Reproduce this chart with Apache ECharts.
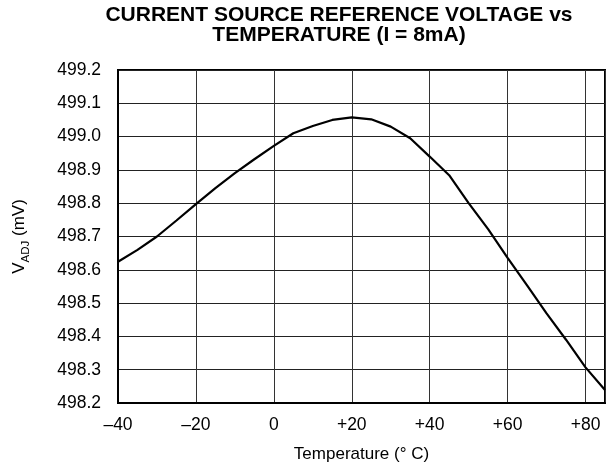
<!DOCTYPE html>
<html>
<head>
<meta charset="utf-8">
<script src="https://cdn.jsdelivr.net/npm/echarts@6/dist/echarts.min.js"></script>
<style>
  html, body { margin: 0; padding: 0; background: #ffffff; }
  #chart { width: 608px; height: 470px; }
</style>
</head>
<body>
<div id="chart"></div>
<script>
// Reference voltage of the current source versus junction temperature
var temperatures = [-40, -35, -30, -25, -20, -15, -10, -5, 0, 5, 10, 15, 20, 25, 30, 35, 40, 45, 50, 55, 60, 65, 70, 75, 80, 85];
var vadj = [498.624, 498.660, 498.700, 498.748, 498.797, 498.845, 498.890, 498.932, 498.972, 499.010, 499.032, 499.050, 499.058, 499.052, 499.030, 498.995, 498.940, 498.884, 498.800, 498.722, 498.636, 498.553, 498.469, 498.390, 498.307, 498.239];
var xTicks = [-40, -20, 0, 20, 40, 60, 80];
var yTicks = [498.2, 498.3, 498.4, 498.5, 498.6, 498.7, 498.8, 498.9, 499.0, 499.1, 499.2];

var titleLines = ['CURRENT SOURCE REFERENCE VOLTAGE vs', 'TEMPERATURE (I = 8mA)'];
var FONT = '"Liberation Sans", Arial, Helvetica, sans-serif';

function fmtTemp(v) {
  if (xTicks.indexOf(v) < 0) return '';
  if (v > 0) return '+' + v;
  if (v < 0) return '\u2013' + Math.abs(v);
  return '0';
}

var points = temperatures.map(function (t, i) { return [t, vadj[i]]; });

var chart = echarts.init(document.getElementById('chart'), null, { renderer: 'canvas' });
chart.setOption({
  animation: false,
  backgroundColor: '#ffffff',
  graphic: [{
    type: 'text',
    x: 339,
    y: 5,
    style: {
      text: titleLines.join('\n'),
      font: 'bold 21px ' + FONT,
      fill: '#000000',
      textAlign: 'center',
      textVerticalAlign: 'top',
      lineHeight: 20
    }
  }],
  grid: {
    left: 118, top: 70, width: 490, height: 333,
    show: true, borderColor: '#000000', borderWidth: 2, backgroundColor: 'transparent'
  },
  xAxis: {
    type: 'value',
    min: -40, max: 85, interval: 20,
    name: 'Temperature (\u00b0 C)',
    nameLocation: 'middle',
    nameGap: 43,
    nameTextStyle: { fontFamily: FONT, fontSize: 17, color: '#000000' },
    axisLine: { show: true, onZero: false, lineStyle: { color: '#000000', width: 2 } },
    axisTick: { show: false },
    axisLabel: { formatter: fmtTemp, margin: 13, fontFamily: FONT, fontSize: 17.5, color: '#000000' },
    splitLine: { show: true, lineStyle: { color: '#333333', width: 1 } }
  },
  yAxis: {
    type: 'value',
    min: yTicks[0], max: yTicks[yTicks.length - 1], interval: 0.1,
    name: '{v|V}{s|ADJ}{v| (mV)}',
    nameLocation: 'middle',
    nameGap: 90,
    nameRotate: 90,
    nameTextStyle: {
      color: '#000000',
      rich: {
        v: { fontFamily: FONT, fontSize: 17, color: '#000000', lineHeight: 22, verticalAlign: 'bottom' },
        s: { fontFamily: FONT, fontSize: 11.5, color: '#000000', lineHeight: 22, verticalAlign: 'bottom', padding: [0, 0, -4, 0] }
      }
    },
    axisLine: { show: true, onZero: false, lineStyle: { color: '#000000', width: 2 } },
    axisTick: { show: false },
    axisLabel: {
      formatter: function (v) { return v.toFixed(1); },
      margin: 17, fontFamily: FONT, fontSize: 17.5, color: '#000000'
    },
    splitLine: { show: true, lineStyle: { color: '#222222', width: 1 } }
  },
  series: [{
    type: 'line',
    data: points,
    showSymbol: false,
    smooth: false,
    clip: true,
    lineStyle: { color: '#000000', width: 2.2 }
  }]
});
</script>
</body>
</html>
